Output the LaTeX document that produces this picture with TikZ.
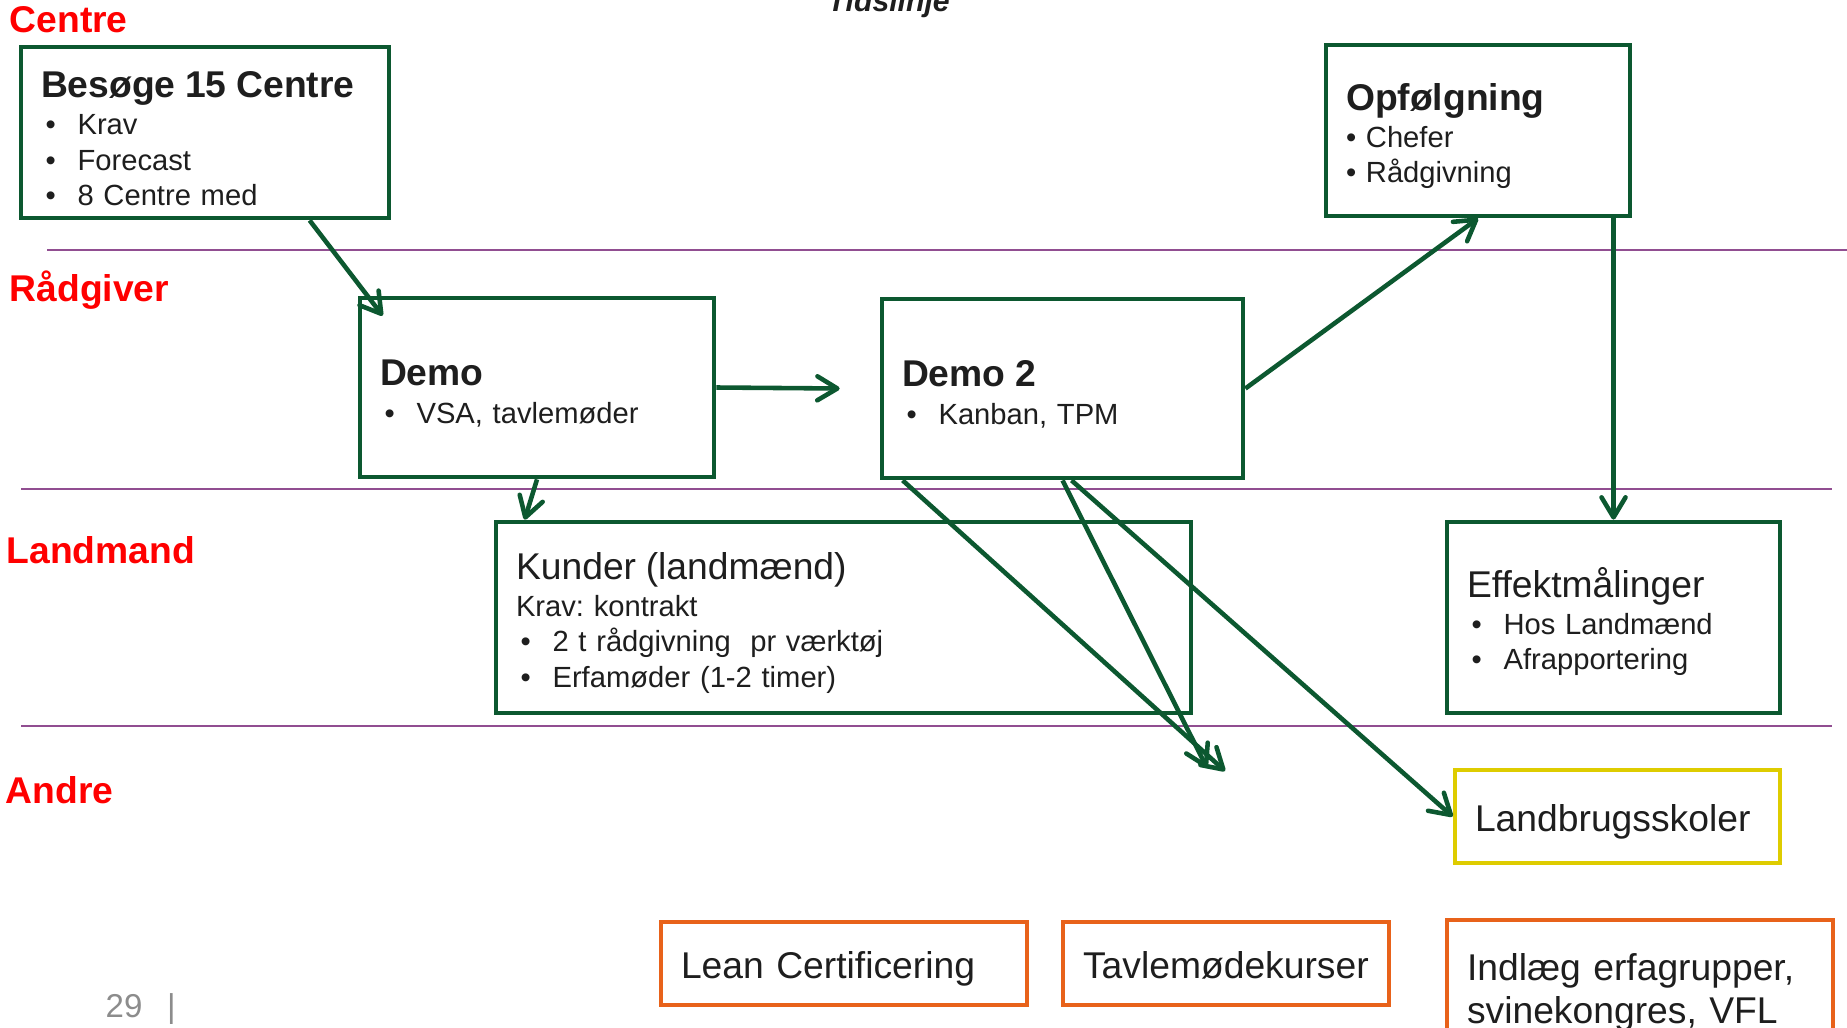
\documentclass[tikz,border=0pt]{standalone}
\usepackage{fontspec}
\setmainfont{Liberation Sans}
\usepackage{tikz}
\usetikzlibrary{arrows.meta,calc}
\definecolor{boxGreen}{RGB}{12,88,48}
\definecolor{laneLine}{RGB}{145,78,145}
\definecolor{schoolYellow}{RGB}{222,204,0}
\definecolor{courseOrange}{RGB}{232,98,26}
\definecolor{bodyText}{RGB}{30,30,30}
\newcommand{\titleSize}[0]{\fontsize{10.6}{12.4}\selectfont}
\newcommand{\itemSize}[0]{\fontsize{8.3}{10}\selectfont}
\newcommand{\topStrut}[0]{\rule[-2.2pt]{0pt}{13pt}}
\newcommand{\pnt}[1]{\makebox[10.4pt][l]{\hspace{1.3pt}\textbullet}#1}
\frenchspacing

\begin{document}
\begin{tikzpicture}[x=0.1mm, y=-0.1mm]
  \tikzset{
    lane/.style={font=\bfseries\titleSize, text=red, anchor=base west, inner sep=0pt},
    divider/.style={draw=laneLine, line width=0.6pt},
    card/.style={draw=#1, line width=1.35pt, fill=white, inner xsep=2mm, inner ysep=0pt,
      align=left, text=bodyText, font=\itemSize, execute at begin node={\topStrut}},
    flow/.style={draw=boxGreen, line width=1.3pt, -{Straight Barb[length=2mm,width=2.4mm,round]}}
  }
  \useasboundingbox (0,0) rectangle (1847,1027);
  \clip (0,0) rectangle (1847,1027);

  \node[font=\bfseries\itshape\fontsize{8.6}{10}\selectfont, text=bodyText, anchor=base west, inner sep=0pt]
    (timeline) at (827,12) {Tidslinje};

  \node[lane] (laneCentre) at (9,33) {Centre};
  \node[lane] (laneRaad) at (9,301) {Rådgiver};
  \node[lane] (laneLand) at (6,563) {Landmand};
  \node[lane] (laneOther) at (5,803) {Andre};

  \draw[divider] (47,250) -- (1847,250);
  \draw[divider] (21,489) -- (1832,489);
  \draw[divider] (21,726) -- (1832,726);

  \node[card=boxGreen, text width=32.8mm, minimum height=17.1mm] (centre) at (205,132.5)
    {{\bfseries\titleSize Besøge 15 Centre}\\[0.7pt] \pnt{Krav}\\ \pnt{Forecast}\\ \pnt{8 Centre med}};
  \node[card=boxGreen, text width=26.4mm, minimum height=17.1mm] (follow) at (1478,130.5)
    {{\bfseries\titleSize Opfølgning}\\[0.7pt] \textbullet\ Chefer\\ \textbullet\ Rådgivning};
  \node[card=boxGreen, text width=31.4mm, minimum height=17.9mm] (demo) at (537,387.5)
    {{\bfseries\titleSize Demo}\\[0.7pt] \pnt{VSA, tavlemøder}};
  \node[card=boxGreen, text width=32.1mm, minimum height=17.9mm] (demo2) at (1062.5,388.5)
    {{\bfseries\titleSize Demo 2}\\[0.7pt] \pnt{Kanban, TPM}};
  \node[card=boxGreen, text width=65.5mm, minimum height=19.1mm] (kunder) at (843.5,617.5)
    {{\titleSize Kunder (landmænd)}\\[0.5pt] Krav: kontrakt\\
     \pnt{2 t rådgivning\ \ pr værktøj}\\ \pnt{Erfamøder (1-2 timer)}};
  \node[card=boxGreen, text width=29.3mm, minimum height=19.1mm] (effekt) at (1613.5,617.5)
    {{\titleSize Effektmålinger}\\[0.7pt] \pnt{Hos Landmænd}\\ \pnt{Afrapportering}};
  \node[card=schoolYellow, text width=28.5mm, minimum height=9.3mm, font=\titleSize] (skole) at (1617.5,816.5)
    {Landbrugsskoler};
  \node[card=courseOrange, text width=32.6mm, minimum height=8.3mm, font=\titleSize] (lean) at (844,963.5)
    {Lean Certificering};
  \node[card=courseOrange, text width=28.6mm, minimum height=8.3mm, font=\titleSize] (tavle) at (1226,963.5)
    {Tavlemødekurser};
  \node[card=courseOrange, text width=34.6mm, minimum height=13.4mm, font=\titleSize] (indlaeg) at (1640,987)
    {Indlæg erfagrupper,\\ svinekongres, VFL};

  \coordinate (dropA) at (1225,771);
  \coordinate (dropB) at (1207,768);

  \draw[flow] ($(centre.south west)+(291,0)$) -- ($(demo.north west)+(25,20)$);
  \draw[flow] (demo.east) -- ($(demo2.west)+(-40,0)$);
  \draw[flow] (demo.south) -- ($(kunder.north west)+(31,0)$);
  \draw[flow] (demo2.east) -- (follow.south);
  \draw[flow] (follow.south -| effekt.north) -- (effekt.north);
  \draw[flow] ($(demo2.south west)+(23,0)$) -- (dropA);
  \draw[flow] (demo2.south) -- (dropB);
  \draw[flow] ($(demo2.south)+(9,0)$) -- (skole.west);

  \node[font=\fontsize{9.4}{11}\selectfont, text=black!45, anchor=base west, inner sep=0pt]
    (pageNo) at (105,1017) {29\hspace{7pt}|};
\end{tikzpicture}
\end{document}
